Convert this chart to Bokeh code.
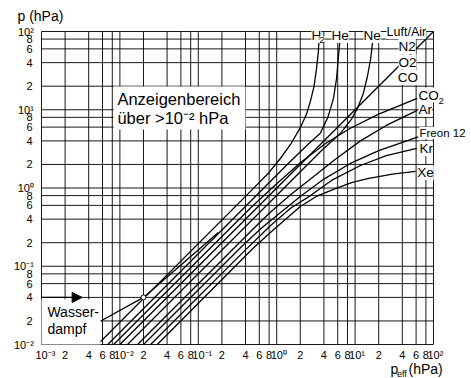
from bokeh.plotting import figure
from bokeh.models import Range1d, Label, BoxAnnotation, Arrow, NormalHead
from bokeh.embed import file_html
from bokeh.resources import INLINE

# ---- data: curves (p_eff in hPa, p in hPa) ----
h2_x = [5.2e-3, 0.46, 0.8, 1.12, 1.5, 2.0, 2.4, 2.7, 3.0, 3.2, 3.4, 3.5]
h2_y = [1e-2, 0.9, 1.58, 2.4, 3.6, 5.9, 8.8, 13, 20, 32, 55, 100]
he_x = [7e-3, 1.5, 2.5, 3.6, 4.5, 5.3, 5.8, 6.1, 6.35, 6.5]
he_y = [1e-2, 2.2, 3.6, 5.0, 8.0, 14, 25, 45, 70, 100]
co2_x = [8.3e-3, 0.3, 0.46, 0.9, 2.0, 4.2, 8.7, 20, 62]
co2_y = [1e-2, 0.36, 0.55, 1.03, 2.1, 3.7, 5.8, 8.8, 14]
air_x = [1e-2, 3.0, 100]
air_y = [1e-2, 3.0, 100]
ne_x = [1.25e-2, 3.6, 6.5, 9.0, 10.7, 12.7, 14.4, 15.8, 16.7, 17.7]
ne_y = [1e-2, 2.9, 5.0, 7.6, 10.4, 16, 27, 45, 72, 100]
ar_x = [1.68e-2, 0.5, 0.83, 1.5, 2.7, 5.5, 11.7, 25, 62]
ar_y = [1e-2, 0.3, 0.49, 0.82, 1.3, 2.3, 4.0, 6.3, 9.8]
freon_x = [2e-2, 0.35, 0.62, 1.1, 2.0, 4.0, 8.7, 20, 64]
freon_y = [1e-2, 0.175, 0.3, 0.48, 0.78, 1.3, 2.06, 3.0, 4.5]
kr_x = [2.46e-2, 0.4, 0.83, 1.5, 2.7, 5.0, 11.7, 25, 61]
kr_y = [1e-2, 0.162, 0.33, 0.55, 0.8, 1.25, 1.94, 2.6, 3.2]
xe_x = [3e-2, 0.5, 0.83, 1.3, 2.0, 3.2, 5.3, 9.0, 14.4, 30, 59]
xe_y = [1e-2, 0.17, 0.27, 0.4, 0.58, 0.78, 0.96, 1.17, 1.32, 1.5, 1.63]
water_x = [5.7e-3, 2e-2, 0.18]
water_y = [2e-2, 4e-2, 0.27]

curves = [(h2_x, h2_y), (he_x, he_y), (co2_x, co2_y), (air_x, air_y),
          (ne_x, ne_y), (ar_x, ar_y), (freon_x, freon_y), (kr_x, kr_y),
          (xe_x, xe_y), (water_x, water_y)]

# ---- ticks ----
x_ticks = [1e-3, 2e-3, 4e-3, 6e-3, 8e-3, 1e-2, 2e-2, 4e-2, 6e-2, 8e-2,
           1e-1, 2e-1, 4e-1, 6e-1, 8e-1, 1, 2, 4, 6, 8,
           10, 20, 40, 60, 80, 100]
x_tick_text = ["10⁻³", "2", "4", "6", "8", "10⁻²", "2", "4", "6", "8",
               "10⁻¹", "2", "4", "6", "8", "10⁰", "2", "4", "6", "8",
               "10¹", "2", "4", "6", "8", "10²"]
y_ticks = [1e-2, 2e-2, 4e-2, 6e-2, 8e-2, 1e-1, 2e-1, 4e-1, 6e-1, 8e-1,
           1, 2, 4, 6, 8, 10, 20, 40, 60, 80, 100]
y_tick_text = ["10⁻²", "2", "4", "6", "8", "10⁻¹", "2", "4", "6", "8",
               "10⁰", "2", "4", "6", "8", "10¹", "2", "4", "6", "8", "10²"]

X_MIN, X_MAX = 1e-3, 1e2
Y_MIN, Y_MAX = 1e-2, 1e2

FONT = "Liberation Sans"

# The frame spans the whole canvas; the chart area (1e-3..1e2, 1e-2..1e2)
# sits inside it so that axis texts are not clipped.
p = figure(width=471, height=378, x_axis_type="log", y_axis_type="log",
           x_range=Range1d(3.0e-4, 305.3), y_range=Range1d(3.678e-3, 249.0),
           output_backend="svg", toolbar_location=None,
           min_border=0, min_border_left=0, min_border_right=0,
           min_border_top=0, min_border_bottom=0)
p.xaxis.visible = False
p.yaxis.visible = False
p.xgrid.visible = False
p.ygrid.visible = False
p.outline_line_color = None
p.background_fill_color = "white"
p.border_fill_color = "white"

# grid lines
p.segment(x0=x_ticks, x1=x_ticks, y0=[Y_MIN] * len(x_ticks),
          y1=[Y_MAX] * len(x_ticks), line_color="black", line_width=1,
          line_alpha=0.9)
p.segment(x0=[X_MIN] * len(y_ticks), x1=[X_MAX] * len(y_ticks),
          y0=y_ticks, y1=y_ticks, line_color="black", line_width=1,
          line_alpha=0.9)

for cx, cy in curves:
    p.line(cx, cy, line_color="black", line_width=1.3, line_join="round")

# white boxes behind the two text blocks
p.add_layout(BoxAnnotation(left=8.29e-3, right=0.40, bottom=5.6, top=19.8,
                           fill_color="white", fill_alpha=1, line_alpha=0,
                           level="overlay"))
p.add_layout(BoxAnnotation(left=1e-3, right=5.66e-3, bottom=1e-2, top=0.038,
                           fill_color="white", fill_alpha=1, line_alpha=0,
                           level="overlay"))

# water vapour arrow and point
p.add_layout(Arrow(end=NormalHead(size=10, fill_color="black",
                                  line_color="black", line_width=1),
                   x_start=1e-3, y_start=4e-2, x_end=3.3e-3, y_end=4e-2,
                   line_color="black", line_width=1.2, level="overlay"))
p.scatter([2e-2], [4e-2], marker="circle", size=5,
          fill_color="white", line_color="black", line_width=1)


def lab(x, y, text, size, align="left", baseline="middle", bg=None,
        x_offset=0, y_offset=0):
    l = Label(x=x, y=y, text=text, text_font=FONT, text_font_size=size,
              text_align=align, text_baseline=baseline, text_color="black",
              x_offset=x_offset, y_offset=y_offset, level="overlay")
    if bg:
        l.background_fill_color = bg
        l.background_fill_alpha = 1
    p.add_layout(l)


# tick labels
for v, t in zip(x_ticks, x_tick_text):
    if t.startswith("10"):
        lab(v, 7.44e-3, t, "11px", align="left", x_offset=-6)
    else:
        lab(v, 7.44e-3, t, "11px", align="center")
for v, t in zip(y_ticks, y_tick_text):
    if t.startswith("10"):
        lab(8.0e-4, v, t, "11px", align="right")
    else:
        lab(7.7e-4, v, t, "11px", align="right")

# axis titles
lab(4.94e-4, 160, "p (hPa)", "14px")
lab(28.3, 4.8e-3, "p", "14px")
lab(34.2, 4.14e-3, "eff", "9px")
lab(48, 4.93e-3, "(hPa)", "14px")

# gas labels
lab(2.78, 89, "H", "13.5px", bg="white")
lab(3.5, 79, "2", "9.5px", bg="white")
lab(5.0, 89, "He", "13.5px", bg="white")
lab(12.8, 89, "Ne", "13.5px", bg="white")
lab(25.2, 98.6, "Luft/Air", "12.5px", bg="white")
lab(35.8, 64.3, "N2", "13.5px", bg="white")
lab(35.8, 40.7, "O2", "13.5px", bg="white")
lab(34.9, 25.8, "CO", "13.5px", bg="white")
lab(64.4, 15.4, "CO", "13.5px", bg="white")
lab(116, 13.1, "2", "9.5px")
lab(64.4, 10.1, "Ar", "13.5px", bg="white")
lab(66.3, 5.05, "Freon 12", "11.5px", bg="white")
lab(66.3, 3.2, "Kr", "13.5px", bg="white")
lab(62, 1.58, "Xe", "13.5px", bg="white")

# text boxes
lab(9.3e-3, 13.9, "Anzeigenbereich", "16.5px")
lab(9.3e-3, 7.96, "über >10⁻² hPa", "16.5px")
lab(1.19e-3, 0.0264, "Wasser-", "14px")
lab(1.19e-3, 0.016, "dampf", "14px")

open("out.html", "w").write(file_html(p, INLINE))
